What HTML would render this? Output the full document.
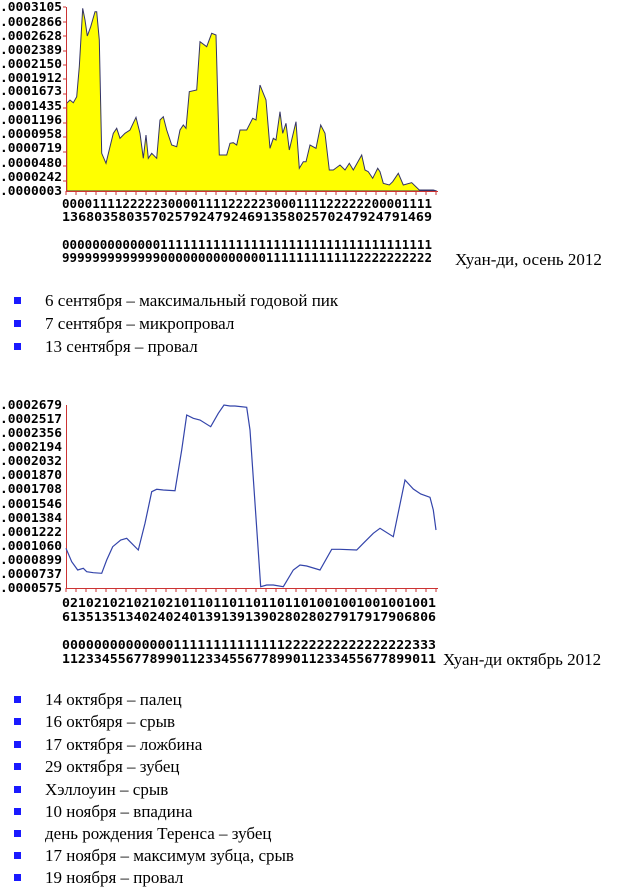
<!DOCTYPE html>
<html><head><meta charset="utf-8"><style>
body{margin:0;background:#fff;width:620px;height:887px;position:relative;overflow:hidden;font-family:"Liberation Serif",serif;}
svg{position:absolute;left:0;top:0}
.t{position:absolute;font-size:17px;color:#000;white-space:nowrap;line-height:20px}
.b{position:absolute;width:7px;height:7px;background:#1a1aff;left:14px}
</style></head><body>
<svg width="620" height="887" xmlns="http://www.w3.org/2000/svg" font-family="DejaVu Sans Mono, Liberation Mono, monospace" font-weight="bold" font-size="12">
<g fill="#000" lengthAdjust="spacingAndGlyphs">
<text x="0" y="11" textLength="62" lengthAdjust="spacingAndGlyphs">.0003105</text>
<text x="0" y="26" textLength="62" lengthAdjust="spacingAndGlyphs">.0002866</text>
<text x="0" y="40" textLength="62" lengthAdjust="spacingAndGlyphs">.0002628</text>
<text x="0" y="54" textLength="62" lengthAdjust="spacingAndGlyphs">.0002389</text>
<text x="0" y="68" textLength="62" lengthAdjust="spacingAndGlyphs">.0002150</text>
<text x="0" y="82" textLength="62" lengthAdjust="spacingAndGlyphs">.0001912</text>
<text x="0" y="95" textLength="62" lengthAdjust="spacingAndGlyphs">.0001673</text>
<text x="0" y="110" textLength="62" lengthAdjust="spacingAndGlyphs">.0001435</text>
<text x="0" y="124" textLength="62" lengthAdjust="spacingAndGlyphs">.0001196</text>
<text x="0" y="138" textLength="62" lengthAdjust="spacingAndGlyphs">.0000958</text>
<text x="0" y="152" textLength="62" lengthAdjust="spacingAndGlyphs">.0000719</text>
<text x="0" y="167" textLength="62" lengthAdjust="spacingAndGlyphs">.0000480</text>
<text x="0" y="181" textLength="62" lengthAdjust="spacingAndGlyphs">.0000242</text>
<text x="0" y="195" textLength="62" lengthAdjust="spacingAndGlyphs">.0000003</text>
<text x="62" y="208" textLength="370" lengthAdjust="spacingAndGlyphs">0000111122222300001111222223000111122222200001111</text>
<text x="62" y="221" textLength="370" lengthAdjust="spacingAndGlyphs">1368035803570257924792469135802570247924791469</text>
<text x="62" y="249" textLength="370" lengthAdjust="spacingAndGlyphs">0000000000000111111111111111111111111111111111111</text>
<text x="62" y="262" textLength="370" lengthAdjust="spacingAndGlyphs">9999999999999000000000000001111111111112222222222</text>
</g>
<polygon fill="#ffff00" stroke="#333366" stroke-width="1" points="66.7,191 66.7,103.3 70,100 73.3,102.7 76.7,96.7 79.3,66.7 82.7,8.3 85,20 87.3,36 90.7,26.7 95,11.7 96.7,11.7 99.3,40 101.7,153.3 106,163.3 110,146.7 113.3,133.3 116.7,128.3 120,138.3 125,133.3 130,130 136,117.3 140,133.3 143.3,158.3 146,135 148.3,158.3 151.7,153.3 156.7,158.3 160,120 163.3,116.7 166.7,130 171.7,145 176.7,146.7 180,130 183.3,125 186,128.3 189.3,91.7 196.7,90 200,41.7 206.7,46.7 211.7,33.3 216,35 219.3,155 226.7,155 230,143.3 233.3,142.7 236.7,145 240,130 246.7,130 252.7,118.3 256,120 260,85 263.3,93.3 266,100 270,148.3 273.3,138.3 276,140 280,111.7 282.7,133.3 286,123.3 289.3,150 296,121.7 299.3,168.3 303.3,161.7 306,161.7 310,145 316,148.3 320.7,125 325,133.3 329.3,170 333.3,170 340,165 345,170 349.3,163.3 353.3,170 361.7,155 365,170 368.3,171.7 372.7,178.3 377.7,168.3 380,171.7 383.3,183.3 389.3,185 392.7,181.7 398.3,173.3 403.3,185 411.7,182.7 419.3,190 433.3,190 436.7,191"/>
<g stroke="#cc3333" stroke-width="1">
<line x1="66.5" y1="7" x2="66.5" y2="191"/>
<line x1="66" y1="191.5" x2="438" y2="191.5"/>
<path d="M66 195V191M76 195V191M86 195V191M96 195V191M106 195V191M116 195V191M126 195V191M136 195V191M146 195V191M156 195V191M166 195V191M176 195V191M186 195V191M196 195V191M206 195V191M216 195V191M226 195V191M236 195V191M246 195V191M256 195V191M266 195V191M276 195V191M286 195V191M296 195V191M306 195V191M316 195V191M326 195V191M336 195V191M346 195V191M356 195V191M366 195V191M376 195V191M386 195V191M396 195V191M406 195V191M416 195V191M426 195V191M436 195V191"/>
<path d="M66 7h-3M66 22h-3M66 36h-3M66 51h-3M66 65h-3M66 79h-3M66 94h-3M66 108h-3M66 123h-3M66 137h-3M66 152h-3M66 166h-3M66 181h-3"/>
</g>
<g fill="#000">
<text x="0" y="409" textLength="62" lengthAdjust="spacingAndGlyphs">.0002679</text>
<text x="0" y="423" textLength="62" lengthAdjust="spacingAndGlyphs">.0002517</text>
<text x="0" y="437" textLength="62" lengthAdjust="spacingAndGlyphs">.0002356</text>
<text x="0" y="451" textLength="62" lengthAdjust="spacingAndGlyphs">.0002194</text>
<text x="0" y="465" textLength="62" lengthAdjust="spacingAndGlyphs">.0002032</text>
<text x="0" y="479" textLength="62" lengthAdjust="spacingAndGlyphs">.0001870</text>
<text x="0" y="493" textLength="62" lengthAdjust="spacingAndGlyphs">.0001708</text>
<text x="0" y="508" textLength="62" lengthAdjust="spacingAndGlyphs">.0001546</text>
<text x="0" y="522" textLength="62" lengthAdjust="spacingAndGlyphs">.0001384</text>
<text x="0" y="536" textLength="62" lengthAdjust="spacingAndGlyphs">.0001222</text>
<text x="0" y="550" textLength="62" lengthAdjust="spacingAndGlyphs">.0001060</text>
<text x="0" y="564" textLength="62" lengthAdjust="spacingAndGlyphs">.0000899</text>
<text x="0" y="578" textLength="62" lengthAdjust="spacingAndGlyphs">.0000737</text>
<text x="0" y="592" textLength="62" lengthAdjust="spacingAndGlyphs">.0000575</text>
<text x="62" y="607" textLength="374" lengthAdjust="spacingAndGlyphs">02102102102102101101101101101101001001001001001</text>
<text x="62" y="621" textLength="374" lengthAdjust="spacingAndGlyphs">61351351340240240139139139028028027917917906806</text>
<text x="62" y="649" textLength="374" lengthAdjust="spacingAndGlyphs">00000000000000111111111111112222222222222222333</text>
<text x="62" y="663" textLength="374" lengthAdjust="spacingAndGlyphs">11233455677899011233455677899011233455677899011</text>
</g>
<g stroke="#cc3333" stroke-width="1">
<line x1="66.5" y1="405" x2="66.5" y2="588"/>
<line x1="66" y1="588.5" x2="438" y2="588.5"/>
<path d="M66 592V588M76 592V588M86 592V588M96 592V588M106 592V588M116 592V588M126 592V588M136 592V588M146 592V588M156 592V588M166 592V588M176 592V588M186 592V588M196 592V588M206 592V588M216 592V588M226 592V588M236 592V588M246 592V588M256 592V588M266 592V588M276 592V588M286 592V588M296 592V588M306 592V588M316 592V588M326 592V588M336 592V588M346 592V588M356 592V588M366 592V588M376 592V588M386 592V588M396 592V588M406 592V588M416 592V588M426 592V588M436 592V588"/>
</g>
<polyline fill="none" stroke="#3344aa" stroke-width="1.2" points="66,548.3 71.7,561.7 77.7,570 83.3,568.3 86.7,571.7 93.3,572.7 101.7,573.3 106.7,560 112.7,546.7 120.7,540 126.7,538.3 138.3,550 145,523.3 151.7,491.7 156.7,489.3 163.3,490 175,490.7 181.7,450 186.7,415 193.3,418.3 200,420 210.7,426.7 218.3,413.3 224,405 230,406 235,406 246.7,407.3 250,430 260.7,586.7 266.7,585 273.3,585 283.3,586.7 293.3,570 300,565 306.7,566 320,570 331.7,549.3 340,549.3 356.7,550 363.3,543.3 373.3,533.3 380,528.3 393.3,536.7 405,480 413.3,489 420.7,494 430,497.3 433.3,510 436,530"/>
</svg>
<div class="t" style="left:455px;top:250px">Хуан-ди, осень 2012</div>
<div class="t" style="left:443px;top:650px">Хуан-ди октябрь 2012</div>
<div class="b" style="top:297px"></div><div class="t" style="left:45px;top:291px">6 сентября – максимальный годовой пик</div>
<div class="b" style="top:320px"></div><div class="t" style="left:45px;top:314px">7 сентября – микропровал</div>
<div class="b" style="top:343px"></div><div class="t" style="left:45px;top:337px">13 сентября – провал</div>
<div class="b" style="top:696px"></div><div class="t" style="left:45px;top:690px">14 октября – палец</div>
<div class="b" style="top:718px"></div><div class="t" style="left:45px;top:712px">16 октбяря – срыв</div>
<div class="b" style="top:741px"></div><div class="t" style="left:45px;top:735px">17 октября – ложбина</div>
<div class="b" style="top:763px"></div><div class="t" style="left:45px;top:757px">29 октября – зубец</div>
<div class="b" style="top:786px"></div><div class="t" style="left:45px;top:780px">Хэллоуин – срыв</div>
<div class="b" style="top:808px"></div><div class="t" style="left:45px;top:802px">10 ноября – впадина</div>
<div class="b" style="top:830px"></div><div class="t" style="left:45px;top:824px">день рождения Теренса – зубец</div>
<div class="b" style="top:852px"></div><div class="t" style="left:45px;top:846px">17 ноября – максимум зубца, срыв</div>
<div class="b" style="top:874px"></div><div class="t" style="left:45px;top:868px">19 ноября – провал</div>
</body></html>
